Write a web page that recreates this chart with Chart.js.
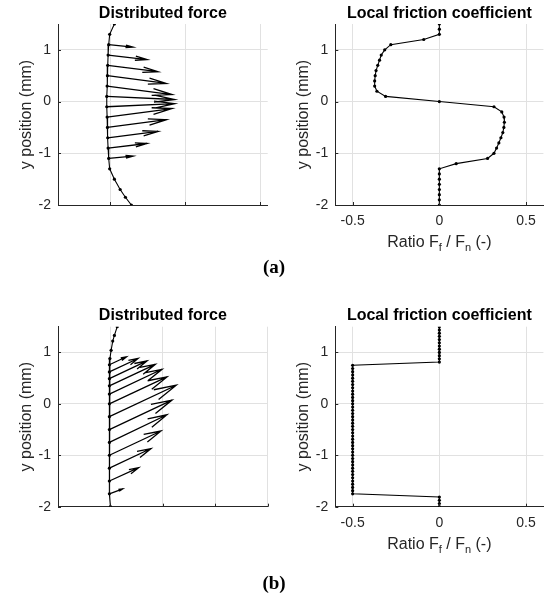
<!DOCTYPE html>
<html>
<head>
<meta charset="utf-8">
<script src="https://cdn.jsdelivr.net/npm/chart.js@4.4.0/dist/chart.umd.min.js"></script>
<style>
  body { margin: 0; background: #fff; width: 545px; height: 601px; position: relative; overflow: hidden; }
  canvas { position: absolute; }
  .cap { position: absolute; font: bold 19px "Liberation Serif", serif; color: #000; transform: translate(-50%, -50%); }
</style>
</head>
<body>
<canvas id="forceA" width="272" height="260" style="left:0;top:0"></canvas>
<canvas id="fricA" width="273" height="260" style="left:272px;top:0"></canvas>
<canvas id="forceB" width="272" height="260" style="left:0;top:300px"></canvas>
<canvas id="fricB" width="273" height="260" style="left:272px;top:300px"></canvas>
<div class="cap" style="left:274px;top:267px">(a)</div>
<div class="cap" style="left:274px;top:583px">(b)</div>
<script>
// tick positions
const yTicks = [-2, -1, 0, 1];
const fricTicks = [-0.5, 0, 0.5];
const forceTicksA = [0, 1, 2];
const forceTicksB = [0, 1, 2, 3];

// (a) distributed force: surface line
const surfAY = [1.5, 1.3, 1.1, 0.9, 0.7, 0.5, 0.3, 0.1, -0.1, -0.3, -0.5, -0.7, -0.9, -1.1, -1.3, -1.5, -1.7, -1.85, -2.0];
const surfAX = [0.053, -0.01, -0.023, -0.031, -0.036, -0.04, -0.044, -0.049, -0.049, -0.044, -0.04, -0.036, -0.031, -0.023, -0.01, 0.053, 0.13, 0.2, 0.28];
// (a) force arrows (base + components)
const arrAY = [1.1, 0.9, 0.7, 0.5, 0.3, 0.1, -0.1, -0.3, -0.5, -0.7, -0.9, -1.1];
const arrAX = [-0.023, -0.031, -0.036, -0.04, -0.044, -0.049, -0.049, -0.044, -0.04, -0.036, -0.031, -0.023];
const arrAU = [0.325, 0.52, 0.672, 0.787, 0.867, 0.907, 0.907, 0.867, 0.787, 0.672, 0.52, 0.325];
const arrAV = [-0.047, -0.089, -0.122, -0.15, -0.165, -0.06, 0.06, 0.165, 0.15, 0.122, 0.089, 0.047];

// (a) local friction coefficient
const fricAY = [1.5, 1.4, 1.3, 1.2, 1.1, 1.0, 0.9, 0.8, 0.7, 0.6, 0.5, 0.4, 0.3, 0.2, 0.1, 0,
  -0.1, -0.2, -0.3, -0.4, -0.5, -0.6, -0.7, -0.8, -0.9, -1.0, -1.1, -1.2, -1.3, -1.4, -1.5, -1.6, -1.7, -1.8, -1.9, -2.0];
const fricAX = [0, 0, 0, -0.09, -0.28, -0.315, -0.335, -0.345, -0.355, -0.365, -0.37, -0.373, -0.373, -0.36, -0.31, 0,
  0.315, 0.36, 0.373, 0.375, 0.372, 0.366, 0.355, 0.343, 0.33, 0.315, 0.278, 0.097, 0, 0, 0, 0, 0, 0, 0, 0];

// (b) distributed force: surface line
const surfBY = [1.5, 1.33, 1.22, 1.04, 0.88, 0.76, 0.62, 0.49, 0.35, 0.19, 0.0, -0.25, -0.5, -0.75, -1.0, -1.25, -1.5, -1.75, -2.0];
const surfBX = [0.13, 0.076, 0.044, 0.013, -0.01, -0.019, -0.02, -0.02, -0.02, -0.02, -0.02, -0.02, -0.02, -0.02, -0.02, -0.02, -0.02, -0.02, 0.0];
// (b) force arrows
const arrBY = [0.76, 0.62, 0.49, 0.35, 0.19, 0.0, -0.25, -0.5, -0.75, -1.0, -1.25, -1.5, -1.75];
const arrBX = [-0.019, -0.02, -0.02, -0.02, -0.02, -0.02, -0.02, -0.02, -0.02, -0.02, -0.02, -0.02, -0.02];
const arrBU = [0.324, 0.547, 0.718, 0.876, 1.004, 1.099, 1.276, 1.194, 1.099, 0.985, 0.794, 0.56, 0.255];
const arrBV = [0.155, 0.262, 0.344, 0.419, 0.482, 0.524, 0.612, 0.573, 0.538, 0.472, 0.381, 0.258, 0.097];

// (b) local friction coefficient
const fricBY = [1.5, 1.4375, 1.375, 1.3125, 1.25, 1.1875, 1.125, 1.0625, 1.0, 0.9375, 0.875, 0.8125,
  0.75, 0.6875, 0.625, 0.5625, 0.5, 0.4375, 0.375, 0.3125, 0.25, 0.1875, 0.125, 0.0625, 0,
  -0.0625, -0.125, -0.1875, -0.25, -0.3125, -0.375, -0.4375, -0.5, -0.5625, -0.625, -0.6875, -0.75,
  -0.8125, -0.875, -0.9375, -1.0, -1.0625, -1.125, -1.1875, -1.25, -1.3125, -1.375, -1.4375, -1.5,
  -1.5625, -1.625, -1.6875, -1.75, -1.8125, -1.875, -1.9375, -2.0];
const fricBX = [0, 0, 0, 0, 0, 0, 0, 0, 0, 0, 0, 0,
  -0.5, -0.5, -0.5, -0.5, -0.5, -0.5, -0.5, -0.5, -0.5, -0.5, -0.5, -0.5, -0.5,
  -0.5, -0.5, -0.5, -0.5, -0.5, -0.5, -0.5, -0.5, -0.5, -0.5, -0.5, -0.5,
  -0.5, -0.5, -0.5, -0.5, -0.5, -0.5, -0.5, -0.5, -0.5, -0.5, -0.5, -0.5,
  -0.5, -0.5, -0.5, -0.5, 0, 0, 0, 0];

const FONT = '"Liberation Sans", Arial, sans-serif';
const AXIS = '#262626';
const GRID = '#e1e1e1';

const toPoints = (xs, ys) => xs.map((x, i) => ({ x: x, y: ys[i] }));

// quiver arrows, drawn through the chart scales
const quiver = {
  id: 'quiver',
  afterDatasetsDraw(chart, args, opts) {
    const { ctx, scales: { x, y } } = chart;
    const px = v => x.getPixelForValue(v);
    const py = v => y.getPixelForValue(v);
    const a = 0.3, b = 0.25;
    ctx.save();
    ctx.strokeStyle = '#000';
    ctx.lineWidth = 1.3;
    ctx.lineJoin = 'miter';
    ctx.beginPath();
    for (let i = 0; i < opts.xs.length; i++) {
      const x0 = opts.xs[i], y0 = opts.ys[i], u = opts.us[i], v = opts.vs[i];
      const x1 = x0 + u, y1 = y0 + v;
      ctx.moveTo(px(x0), py(y0));
      ctx.lineTo(px(x1), py(y1));
      ctx.moveTo(px(x1 - a * (u + b * v)), py(y1 - a * (v - b * u)));
      ctx.lineTo(px(x1), py(y1));
      ctx.lineTo(px(x1 - a * (u - b * v)), py(y1 - a * (v + b * u)));
    }
    ctx.stroke();
    ctx.restore();
  }
};

// small inward ticks like matlab
const inTicks = {
  id: 'inTicks',
  afterDraw(chart) {
    const { ctx, chartArea, scales: { x, y } } = chart;
    ctx.save();
    ctx.strokeStyle = AXIS;
    ctx.lineWidth = 1;
    ctx.beginPath();
    x.ticks.forEach(t => {
      const p = Math.round(x.getPixelForValue(t.value)) + 0.5;
      ctx.moveTo(p, chartArea.bottom);
      ctx.lineTo(p, chartArea.bottom - 3);
    });
    y.ticks.forEach(t => {
      const p = Math.round(y.getPixelForValue(t.value)) + 0.5;
      ctx.moveTo(chartArea.left, p);
      ctx.lineTo(chartArea.left + 3, p);
    });
    ctx.stroke();
    ctx.restore();
  }
};

// x label with subscripts: Ratio F_f / F_n (-)
const ratioLabel = {
  id: 'ratioLabel',
  afterDraw(chart) {
    const { ctx, chartArea } = chart;
    const parts = [['Ratio F', false], ['f', true], [' / F', false], ['n', true], [' (-)', false]];
    const big = '16px ' + FONT, small = '11px ' + FONT;
    ctx.save();
    ctx.fillStyle = AXIS;
    ctx.textBaseline = 'middle';
    ctx.textAlign = 'left';
    let w = 0;
    parts.forEach(p => { ctx.font = p[1] ? small : big; w += ctx.measureText(p[0]).width; });
    let cx = (chartArea.left + chartArea.right) / 2 - w / 2;
    const cy = chartArea.bottom + 38;
    parts.forEach(p => {
      ctx.font = p[1] ? small : big;
      ctx.fillText(p[0], cx, p[1] ? cy + 5 : cy);
      cx += ctx.measureText(p[0]).width;
    });
    ctx.restore();
  }
};

function makeChart(id, cfg) {
  const datasets = [{
    data: cfg.points,
    showLine: true,
    borderColor: '#000',
    borderWidth: 1.1,
    pointRadius: 1.6,
    pointBackgroundColor: '#000',
    pointBorderWidth: 0,
    pointHoverRadius: 0
  }];
  const plugins = [inTicks];
  if (cfg.quiver) plugins.push(quiver);
  if (cfg.ratio) plugins.push(ratioLabel);
  return new Chart(document.getElementById(id), {
    type: 'scatter',
    data: { datasets: datasets },
    plugins: plugins,
    options: {
      responsive: false,
      animation: false,
      devicePixelRatio: 1,
      layout: { padding: { left: 0, right: cfg.padRight, top: 0, bottom: 0 } },
      plugins: {
        legend: { display: false },
        tooltip: { enabled: false },
        title: {
          display: true,
          text: cfg.title,
          fullSize: false,
          color: '#000',
          font: { family: FONT, size: 16, weight: 'bold' },
          padding: cfg.titlePad
        },
        quiver: cfg.quiver || {}
      },
      scales: {
        x: {
          type: 'linear',
          min: cfg.xMin,
          max: cfg.xMax,
          afterBuildTicks: s => { s.ticks = cfg.xTicks.map(v => ({ value: v })); },
          afterFit: s => { s.height = cfg.xHeight; },
          grid: { color: GRID, drawTicks: false },
          border: { color: AXIS, width: 1 },
          ticks: {
            display: cfg.xLabels,
            color: AXIS,
            padding: 8,
            font: { family: FONT, size: 14 },
            callback: v => String(v)
          }
        },
        y: {
          type: 'linear',
          min: -2,
          max: 1.5,
          afterBuildTicks: s => { s.ticks = yTicks.map(v => ({ value: v })); },
          afterFit: s => { s.width = cfg.yWidth; },
          grid: { color: GRID, drawTicks: false },
          border: { color: AXIS, width: 1 },
          ticks: {
            color: AXIS,
            padding: 7,
            font: { family: FONT, size: 14 },
            callback: v => String(v)
          },
          title: {
            display: true,
            text: 'y position (mm)',
            color: AXIS,
            font: { family: FONT, size: 16 },
            padding: { top: cfg.yTitlePad, bottom: 0 }
          }
        }
      }
    }
  });
}

makeChart('forceA', {
  points: toPoints(surfAX, surfAY),
  quiver: { xs: arrAX, ys: arrAY, us: arrAU, vs: arrAV },
  title: 'Distributed force',
  titlePad: { top: 4, bottom: 0.8 },
  xMin: -0.7, xMax: 2.1, xTicks: forceTicksA, xLabels: false,
  xHeight: 55, yWidth: 58, padRight: 4.3, yTitlePad: 17
});

makeChart('fricA', {
  points: toPoints(fricAX, fricAY),
  ratio: true,
  title: 'Local friction coefficient',
  titlePad: { top: 4, bottom: 0.8 },
  xMin: -0.6, xMax: 0.6, xTicks: fricTicks, xLabels: true,
  xHeight: 55, yWidth: 63.3, padRight: 0.3, yTitlePad: 22
});

makeChart('forceB', {
  points: toPoints(surfBX, surfBY),
  quiver: { xs: arrBX, ys: arrBY, us: arrBU, vs: arrBV },
  title: 'Distributed force',
  titlePad: { top: 5.5, bottom: 2 },
  xMin: -1, xMax: 3, xTicks: forceTicksB, xLabels: false,
  xHeight: 53.3, yWidth: 58, padRight: 4.3, yTitlePad: 17
});

makeChart('fricB', {
  points: toPoints(fricBX, fricBY),
  ratio: true,
  title: 'Local friction coefficient',
  titlePad: { top: 5.5, bottom: 2 },
  xMin: -0.6, xMax: 0.6, xTicks: fricTicks, xLabels: true,
  xHeight: 53.3, yWidth: 63.3, padRight: 0.3, yTitlePad: 22
});
</script>
</body>
</html>
